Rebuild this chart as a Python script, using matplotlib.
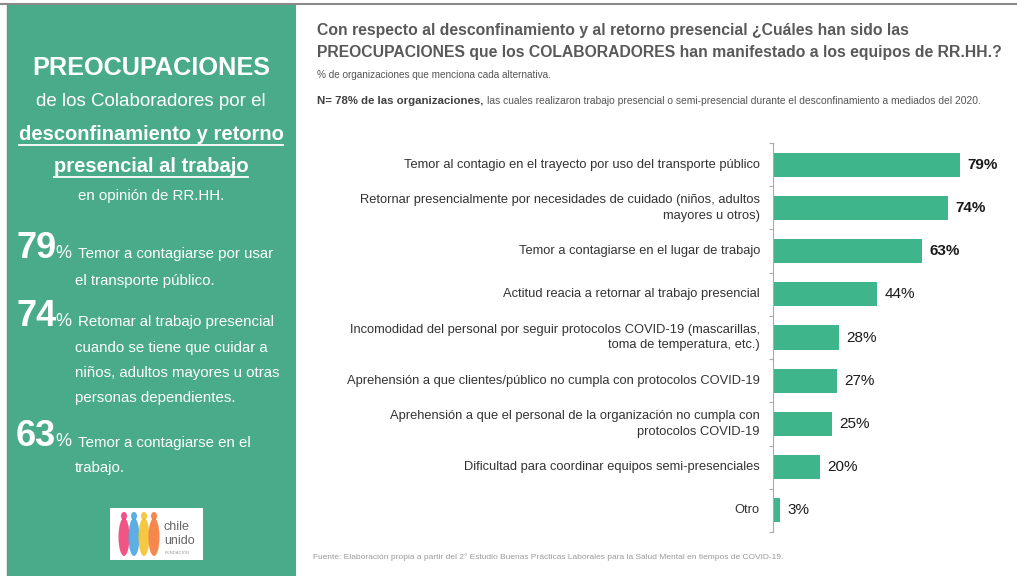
import numpy as np
import matplotlib
matplotlib.use("Agg")
import matplotlib.pyplot as plt
from matplotlib.patches import Rectangle, Ellipse

plt.rcParams['font.family'] = ['Liberation Sans', 'DejaVu Sans']

# datos
categorias = [
    "Temor al contagio en el trayecto por uso del transporte público",
    "Retornar presencialmente por necesidades de cuidado (niños, adultos\nmayores u otros)",
    "Temor a contagiarse en el lugar de trabajo",
    "Actitud reacia a retornar al trabajo presencial",
    "Incomodidad del personal por seguir protocolos COVID-19 (mascarillas,\ntoma de temperatura, etc.)",
    "Aprehensión a que clientes/público no cumpla con protocolos COVID-19",
    "Aprehensión a que el personal de la organización no cumpla con\nprotocolos COVID-19",
    "Dificultad para coordinar equipos semi-presenciales",
    "Otro",
]
valores = [79, 74, 63, 44, 28, 27, 25, 20, 3]
etiquetas = ["79%", "74%", "63%", "44%", "28%", "27%", "25%", "20%", "3%"]

destacados = [("79", ["Temor a contagiarse por usar", "el transporte público."]),
              ("74", ["Retomar al trabajo presencial", "cuando se tiene que cuidar a",
                      "niños, adultos mayores u otras", "personas dependientes."]),
              ("63", ["Temor a contagiarse en el", "trabajo."])]

W, H = 1017, 576
verde_barra = "#3fb58c"
verde_panel = "#4aab8b"
gris_txt = "#595959"

fig = plt.figure(figsize=(W / 100, H / 100), dpi=100)
fig.patch.set_facecolor("white")

def fx(px):
    return px / W

def fy(py):
    return 1 - py / H

# panel izquierdo
fig.add_artist(Rectangle((fx(7), 0), fx(289), fy(5), transform=fig.transFigure,
                         facecolor=verde_panel, edgecolor="none"))
fig.add_artist(plt.Line2D([0, 1], [fy(4), fy(4)], transform=fig.transFigure,
                          color="#8a8a8a", lw=1.5))
fig.add_artist(plt.Line2D([fx(7), fx(7)], [0, fy(4)], transform=fig.transFigure,
                          color="#7a8a84", lw=1))

cx = fx(151)
fig.text(cx, fy(68), "PREOCUPACIONES", color="white", fontsize=18.2, fontweight="bold",
         ha="center", va="center")
fig.text(cx, fy(102), "de los Colaboradores por el", color="white", fontsize=13.5,
         ha="center", va="center")
t1 = fig.text(cx, fy(134), "desconfinamiento y retorno", color="white", fontsize=14.5,
              fontweight="bold", ha="center", va="center")
t2 = fig.text(cx, fy(166), "presencial al trabajo", color="white", fontsize=14.5,
              fontweight="bold", ha="center", va="center")
fig.text(cx, fy(196), "en opinión de RR.HH.", color="white", fontsize=10.8,
         ha="center", va="center")

ys_num = [248, 316, 437]
ys_txt = [[254, 281], [322, 348, 373, 398], [443, 468]]
for (num, lineas), yn, yts in zip(destacados, ys_num, ys_txt):
    fig.text(fx(16), fy(yn), num, color="white", fontsize=26, fontweight="bold",
             ha="left", va="center")
    fig.text(fx(55), fy(yts[0] - 1), "%", color="white", fontsize=13,
             ha="left", va="center")
    for k, (ln, yt) in enumerate(zip(lineas, yts)):
        fig.text(fx(78 if k == 0 else 75), fy(yt), ln, color="white", fontsize=10.8,
                 ha="left", va="center")

# subrayado
fig.canvas.draw()
r = fig.canvas.get_renderer()
for t in (t1, t2):
    bb = t.get_window_extent(r)
    yl = bb.y0 - 1
    fig.add_artist(plt.Line2D([bb.x0 / W, bb.x1 / W], [yl / H, yl / H],
                              transform=fig.transFigure, color="white", lw=1.3))

# logo
fig.add_artist(Rectangle((fx(110), fy(560)), fx(93), fy(508) - fy(560),
                         transform=fig.transFigure, facecolor="white", edgecolor="none"))
for i, c in enumerate(["#f0417a", "#4aa6e0", "#f6c12e", "#f47a3c"]):
    xc = 124 + i * 10
    fig.add_artist(Ellipse((fx(xc), fy(537)), fx(11), fy(518) - fy(556),
                           transform=fig.transFigure, facecolor=c, edgecolor="none", alpha=0.9))
    fig.add_artist(Ellipse((fx(xc), fy(516)), fx(6), fy(512) - fy(520),
                           transform=fig.transFigure, facecolor=c, edgecolor="none", alpha=0.9))
fig.text(fx(164), fy(527), "chile", color="#666666", fontsize=9, ha="left", va="center")
fig.text(fx(164), fy(541), "unido", color="#666666", fontsize=9, ha="left", va="center")
fig.text(fx(165), fy(553), "FUNDACIÓN", color="#999999", fontsize=3, ha="left", va="center")

# encabezado
fig.text(fx(317), fy(30), "Con respecto al desconfinamiento y al retorno presencial ¿Cuáles han sido las",
         color=gris_txt, fontsize=11.3, fontweight="bold", ha="left", va="center")
fig.text(fx(317), fy(52), "PREOCUPACIONES que los COLABORADORES han manifestado a los equipos de RR.HH.?",
         color=gris_txt, fontsize=11.3, fontweight="bold", ha="left", va="center")
fig.text(fx(317), fy(75), "% de organizaciones que menciona cada alternativa.",
         color="#555555", fontsize=7.2, ha="left", va="center")
tn = fig.text(fx(317), fy(101), "N= 78% de las organizaciones,", color="#404040",
              fontsize=8.2, fontweight="bold", ha="left", va="center")
fig.canvas.draw()
bbn = tn.get_window_extent(fig.canvas.get_renderer())
fig.text((bbn.x1 + 4) / W, fy(101),
         "las cuales realizaron trabajo presencial o semi-presencial durante el desconfinamiento a mediados del 2020.",
         color="#555555", fontsize=7.4, ha="left", va="center")
fig.text(fx(313), fy(557),
         "Fuente: Elaboración propia a partir del 2° Estudio Buenas Prácticas Laborales para la Salud Mental en tiempos de COVID-19.",
         color="#9a9a9a", fontsize=6, ha="left", va="center")

# gráfico de barras
ax = fig.add_axes([fx(773), fy(532), fx(237), fy(143) - fy(532)])
y = np.arange(len(categorias))
ax.barh(y, valores, height=0.56, color=verde_barra, edgecolor="none")
ax.set_xlim(0, 100)
ax.set_ylim(len(categorias) - 0.5, -0.5)
for i, (v, e) in enumerate(zip(valores, etiquetas)):
    ax.text(v + 3, i, e, va="center", ha="left", fontsize=11, color="#1a1a1a",
            fontweight="bold" if i < 3 else "normal")
for i, c in enumerate(categorias):
    ax.text(-5.5, i, c, va="center", ha="right", fontsize=9.3, color="#333333",
            linespacing=1.4)
ax.set_yticks(np.arange(len(categorias) + 1) - 0.5)
ax.set_yticklabels([])
ax.tick_params(axis="y", length=3, color="#aaaaaa", direction="out")
ax.set_xticks([])
for s in ["top", "right", "bottom"]:
    ax.spines[s].set_visible(False)
ax.spines["left"].set_color("#aaaaaa")
ax.set_facecolor("none")

fig.savefig("out.png", dpi=100, facecolor="white")
